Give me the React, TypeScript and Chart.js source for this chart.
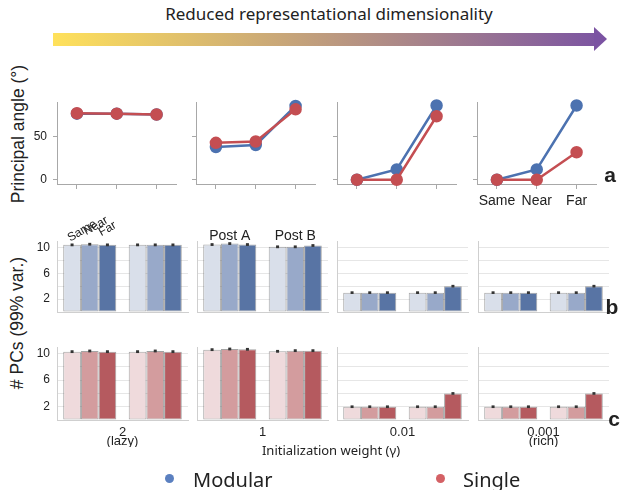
import React, { useEffect, useRef } from 'react';
import { Chart, registerables } from 'chart.js';
Chart.register(...registerables);
Chart.defaults.font.family = '"Liberation Sans", Arial, sans-serif';

// ---------- data ----------
const conditions = ['Same', 'Near', 'Far'];
const tasks = ['Post A', 'Post B'];
const initWeights = ['2', '1', '0.01', '0.001'];
const regimeNotes = ['(lazy)', '', '', '(rich)'];
const angleTicks = [0, 50];
const pcTicks = [0, 2, 4, 6, 8, 10];
const pcTickLabels = [2, 6, 10];

// principal angle (deg) per init weight, over [Same, Near, Far]
const angleModular = [
  [77, 77, 76],
  [38, 40.5, 86],
  [0, 12, 86.5],
  [0, 12, 86.5],
];
const angleSingle = [
  [77.5, 77, 76],
  [43, 44.5, 82],
  [0, 0, 74],
  [0, 0, 32],
];

// # PCs per init weight -> per condition -> [Post A, Post B]
const pcsModular = [
  [[10.4, 10.4], [10.5, 10.4], [10.4, 10.4]],
  [[10.45, 10.1], [10.6, 10.1], [10.45, 10.3]],
  [[3, 3], [3, 3], [3, 4]],
  [[3, 3], [3, 3], [3, 4]],
];
const pcsSingle = [
  [[10.3, 10.3], [10.4, 10.4], [10.3, 10.3]],
  [[10.6, 10.35], [10.7, 10.45], [10.65, 10.45]],
  [[2, 2], [2, 2], [2, 4]],
  [[2, 2], [2, 2], [2, 4]],
];
const pcsErrModular = [0.06, 0.06, 0.05, 0.05];
const pcsErrSingle = [0.06, 0.06, 0.05, 0.05];

// ---------- styles ----------
const BLUE = '#4c72b0';
const RED = '#c44e52';
const BLUE_SHADES = ['#d9dfea', '#98a9c9', '#5874a4'];
const RED_SHADES = ['#efdadc', '#d39c9e', '#b55a5f'];
const EDGE = 'rgba(90,90,90,0.55)';
const AXIS = '#a8a8a8';
const LIGHT_AXIS = '#cfcfcf';
const GRID = '#e6e6e6';
const TEXT = '#222';
const SANS = '"Liberation Sans", Arial, sans-serif';
const NOTO = '"Noto Sans", sans-serif';

const LINE_AXES = [57, 196, 337, 477];
const BAR_AXES = [57, 197, 337, 478];

function fixY(width: number) {
  return (s: any) => {
    s.width = width;
    s.paddingTop = 0;
    s.paddingBottom = 0;
  };
}
function fixX(height: number) {
  return (s: any) => {
    s.height = height;
    s.paddingLeft = 0;
    s.paddingRight = 0;
  };
}

function lineConfig(i: number): any {
  return {
    type: 'line',
    data: {
      labels: conditions,
      datasets: [
        { label: 'Single', data: angleSingle[i], borderColor: RED, backgroundColor: RED, pointBackgroundColor: RED, pointBorderColor: RED, pointRadius: 5, borderWidth: 2.5, order: 0, clip: false },
        { label: 'Modular', data: angleModular[i], borderColor: BLUE, backgroundColor: BLUE, pointBackgroundColor: BLUE, pointBorderColor: BLUE, pointRadius: 5, borderWidth: 2.5, order: 1, clip: false },
      ],
    },
    options: {
      animation: false,
      responsive: false,
      devicePixelRatio: 1,
      layout: { padding: { top: 7, right: 6, left: 0, bottom: 0 } },
      plugins: { legend: { display: false }, tooltip: { enabled: false } },
      scales: {
        x: {
          type: 'category',
          offset: true,
          grid: { drawOnChartArea: false, tickLength: 5, color: AXIS },
          border: { color: AXIS },
          ticks: {
            padding: 4, color: TEXT, maxRotation: 0, autoSkip: false,
            font: { family: SANS, size: 14 },
            callback: (_v: any, idx: number) => (i === 3 ? conditions[idx] : ''),
          },
          afterFit: fixX(30),
        },
        y: {
          min: -5,
          max: 90,
          afterBuildTicks: (s: any) => { s.ticks = angleTicks.map((v) => ({ value: v })); },
          grid: { drawOnChartArea: false, tickLength: 4, color: AXIS },
          border: { color: AXIS },
          ticks: {
            padding: 6, color: TEXT, autoSkip: false, font: { family: SANS, size: 12 },
            callback: (v: any) => (i === 0 ? String(v) : ''),
          },
          afterFit: fixY(40),
        },
      },
    },
  };
}

function errorBars(err: number) {
  return {
    id: 'errorBars',
    afterDatasetsDraw(chart: any) {
      const { ctx } = chart;
      const ys = chart.scales.y;
      ctx.save();
      ctx.fillStyle = '#333';
      chart.data.datasets.forEach((ds: any, k: number) => {
        chart.getDatasetMeta(k).data.forEach((bar: any, j: number) => {
          const v = ds.data[j];
          const y1 = ys.getPixelForValue(v + err);
          const y2 = ys.getPixelForValue(v - err);
          ctx.fillRect(bar.x - 1.5, Math.min(y1, y2) - 1, 3, Math.abs(y2 - y1) + 2);
        });
      });
      ctx.restore();
    },
  };
}

const conditionLabels = {
  id: 'conditionLabels',
  afterDraw(chart: any) {
    const { ctx, chartArea } = chart;
    const offsets = [[10, -10], [6, -15], [0, -12]];
    ctx.save();
    ctx.font = `12px ${SANS}`;
    ctx.fillStyle = TEXT;
    ctx.textAlign = 'center';
    ctx.textBaseline = 'middle';
    conditions.forEach((c, k) => {
      const bar = chart.getDatasetMeta(k).data[0];
      ctx.save();
      ctx.translate(bar.x + offsets[k][0], chartArea.top + offsets[k][1]);
      ctx.rotate((-30 * Math.PI) / 180);
      ctx.fillText(c, 0, 0);
      ctx.restore();
    });
    ctx.restore();
  },
};

const taskLabels = {
  id: 'taskLabels',
  afterDraw(chart: any) {
    const { ctx, chartArea } = chart;
    ctx.save();
    ctx.font = `14px ${SANS}`;
    ctx.fillStyle = TEXT;
    ctx.textAlign = 'center';
    ctx.textBaseline = 'alphabetic';
    tasks.forEach((t, j) => {
      ctx.fillText(t, chart.scales.x.getPixelForValue(j), chartArea.top - 1);
    });
    ctx.restore();
  },
};

function weightLabel(i: number) {
  return {
    id: 'weightLabel',
    afterDraw(chart: any) {
      const { ctx, chartArea } = chart;
      const cx = (chartArea.left + chartArea.right) / 2;
      ctx.save();
      ctx.font = `13px ${SANS}`;
      ctx.fillStyle = TEXT;
      ctx.textAlign = 'center';
      ctx.textBaseline = 'middle';
      ctx.fillText(initWeights[i], cx, chartArea.bottom + 12);
      if (regimeNotes[i]) ctx.fillText(regimeNotes[i], cx, chartArea.bottom + 21);
      ctx.restore();
    },
  };
}

function barConfig(row: 'b' | 'c', i: number): any {
  const vals = row === 'b' ? pcsModular[i] : pcsSingle[i];
  const shades = row === 'b' ? BLUE_SHADES : RED_SHADES;
  const err = row === 'b' ? pcsErrModular[i] : pcsErrSingle[i];
  const plugins: any[] = [errorBars(err)];
  if (row === 'b' && i === 0) plugins.push(conditionLabels);
  if (row === 'b' && i === 1) plugins.push(taskLabels);
  if (row === 'c') plugins.push(weightLabel(i));
  return {
    type: 'bar',
    data: {
      labels: tasks,
      datasets: conditions.map((c, k) => ({
        label: c,
        data: vals[k],
        backgroundColor: shades[k],
        borderColor: EDGE,
        borderWidth: 1,
        borderSkipped: false,
        categoryPercentage: 0.81,
        barPercentage: 1,
      })),
    },
    options: {
      animation: false,
      responsive: false,
      devicePixelRatio: 1,
      layout: { padding: { top: row === 'b' ? 30 : 4, right: 2, left: 0, bottom: 0 } },
      plugins: { legend: { display: false }, tooltip: { enabled: false } },
      scales: {
        x: {
          grid: { display: false },
          border: { color: LIGHT_AXIS },
          ticks: { display: false },
          afterFit: fixX(row === 'c' ? 27 : 2),
        },
        y: {
          min: 0,
          max: 11,
          afterBuildTicks: (s: any) => { s.ticks = pcTicks.map((v) => ({ value: v })); },
          grid: { color: GRID, drawTicks: false },
          border: { color: LIGHT_AXIS },
          ticks: {
            padding: 7, color: TEXT, autoSkip: false, font: { family: SANS, size: 12 },
            callback: (v: any) => (i === 0 && pcTickLabels.includes(v) ? String(v) : ''),
          },
          afterFit: fixY(40),
        },
      },
    },
    plugins,
  };
}

function ChartBox({ left, top, width, height, make }: { left: number; top: number; width: number; height: number; make: () => any }) {
  const ref = useRef<HTMLCanvasElement>(null);
  useEffect(() => {
    const chart = new Chart(ref.current as HTMLCanvasElement, make());
    return () => chart.destroy();
  }, []);
  return (
    <canvas
      ref={ref}
      width={width}
      height={height}
      style={{ position: 'absolute', left, top, width, height }}
    />
  );
}

function Label({ x, y, text, size, family = SANS, weight = 400, rotate = 0, color = TEXT }: any) {
  return (
    <div
      style={{
        position: 'absolute', left: x, top: y, fontSize: size, fontFamily: family, fontWeight: weight,
        color, lineHeight: 1, whiteSpace: 'nowrap',
        transform: `translate(-50%, -50%) rotate(${rotate}deg)`,
      }}
    >
      {text}
    </div>
  );
}

export default function App() {
  return (
    <div style={{ position: 'fixed', left: 0, top: 0, width: 621, height: 490, background: '#fff', overflow: 'hidden' }}>
      <Label x={329} y={13} text="Reduced representational dimensionality" size={17} family={NOTO} />
      {/* gradient arrow */}
      <div style={{ position: 'absolute', left: 53, top: 33, width: 542, height: 13, background: 'linear-gradient(to right, #ffe15b, #7d56a1)' }} />
      <div style={{ position: 'absolute', left: 594, top: 27, width: 0, height: 0, borderTop: '12px solid transparent', borderBottom: '12px solid transparent', borderLeft: '13px solid #7b53a2' }} />

      <Label x={19} y={134} text="Principal angle (°)" size={17.5} rotate={-90} />
      <Label x={18} y={323} text="# PCs (99% var.)" size={17.5} rotate={-90} />

      {LINE_AXES.map((ax, i) => (
        <ChartBox key={'a' + i} left={ax - 40} top={95} width={167} height={119} make={() => lineConfig(i)} />
      ))}
      {BAR_AXES.map((ax, i) => (
        <ChartBox key={'b' + i} left={ax - 40} top={211} width={173} height={103} make={() => barConfig('b', i)} />
      ))}
      {BAR_AXES.map((ax, i) => (
        <ChartBox key={'c' + i} left={ax - 40} top={343} width={173} height={104} make={() => barConfig('c', i)} />
      ))}

      <Label x={610} y={174} text="a" size={21} weight={700} />
      <Label x={612} y={306} text="b" size={21} weight={700} />
      <Label x={614} y={418} text="c" size={21} weight={700} />

      <Label x={331} y={450} text="Initialization weight (γ)" size={13} family={NOTO} />

      {/* legend */}
      <div style={{ position: 'absolute', left: 165, top: 474, width: 9, height: 9, borderRadius: '50%', background: '#5b80c0' }} />
      <div style={{ position: 'absolute', left: 193, top: 470, fontSize: 20, lineHeight: '20px', fontFamily: NOTO, color: TEXT }}>Modular</div>
      <div style={{ position: 'absolute', left: 436, top: 474, width: 9, height: 9, borderRadius: '50%', background: '#d46165' }} />
      <div style={{ position: 'absolute', left: 463, top: 470, fontSize: 20, lineHeight: '20px', fontFamily: NOTO, color: TEXT }}>Single</div>
    </div>
  );
}
